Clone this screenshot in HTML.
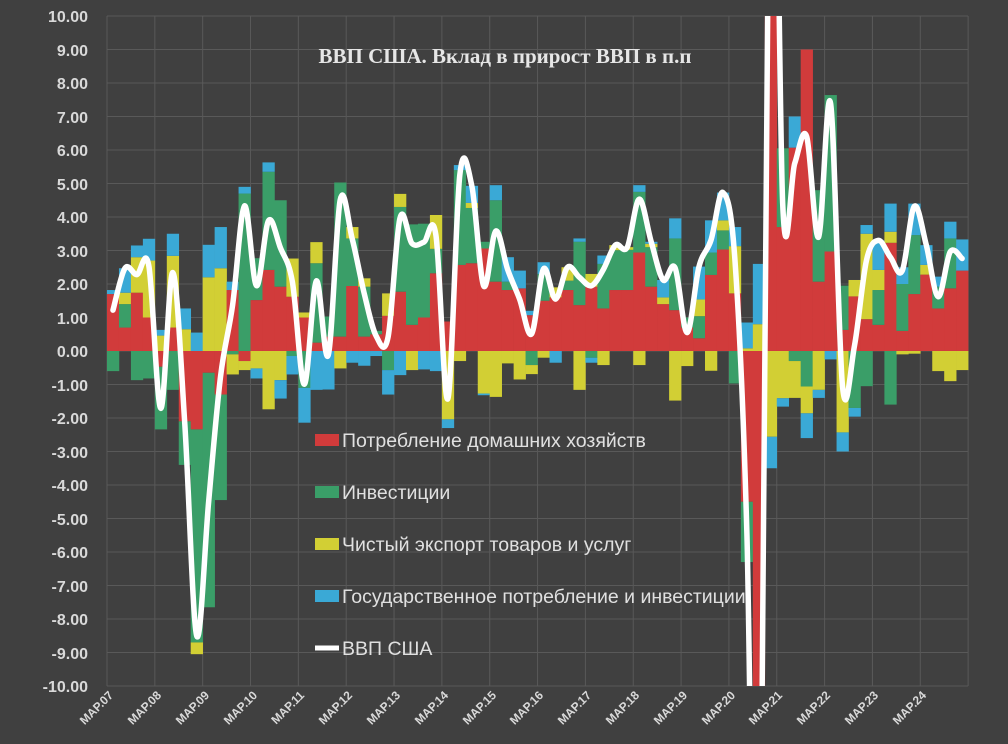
<!DOCTYPE html>
<html><head><meta charset="utf-8">
<style>
html,body{margin:0;padding:0;background:#404040;overflow:hidden;width:1008px;height:744px;}
svg{display:block;}
</style></head>
<body>
<svg id="c" width="1008" height="744" viewBox="0 0 1008 744" xmlns="http://www.w3.org/2000/svg">
<rect x="0" y="0" width="1008" height="744" fill="#404040"/>
<g id="grid" stroke="#595959" stroke-width="1"></g>
<g id="bars"></g>
<defs><clipPath id="cp"><rect x="100" y="16" width="880" height="670"/></clipPath></defs>
<path id="gl" d="" fill="none" stroke="#ffffff" stroke-width="5.5" stroke-linejoin="round" stroke-linecap="round" clip-path="url(#cp)"/>
<g font-family="Liberation Sans, sans-serif" font-size="16" font-weight="bold" fill="#d9d9d9" text-anchor="end">
<text x="88" y="22">10.00</text>
<text x="88" y="56">9.00</text>
<text x="88" y="89">8.00</text>
<text x="88" y="123">7.00</text>
<text x="88" y="156">6.00</text>
<text x="88" y="190">5.00</text>
<text x="88" y="223">4.00</text>
<text x="88" y="257">3.00</text>
<text x="88" y="290">2.00</text>
<text x="88" y="324">1.00</text>
<text x="88" y="357">0.00</text>
<text x="88" y="391">-1.00</text>
<text x="88" y="424">-2.00</text>
<text x="88" y="458">-3.00</text>
<text x="88" y="491">-4.00</text>
<text x="88" y="525">-5.00</text>
<text x="88" y="558">-6.00</text>
<text x="88" y="592">-7.00</text>
<text x="88" y="625">-8.00</text>
<text x="88" y="659">-9.00</text>
<text x="88" y="692">-10.00</text>
</g>
<g font-family="Liberation Sans, sans-serif" font-size="12" font-weight="bold" fill="#d9d9d9" text-anchor="end">
<text transform="translate(114,696) rotate(-45)">МАР.07</text>
<text transform="translate(162,696) rotate(-45)">МАР.08</text>
<text transform="translate(210,696) rotate(-45)">МАР.09</text>
<text transform="translate(258,696) rotate(-45)">МАР.10</text>
<text transform="translate(305,696) rotate(-45)">МАР.11</text>
<text transform="translate(353,696) rotate(-45)">МАР.12</text>
<text transform="translate(401,696) rotate(-45)">МАР.13</text>
<text transform="translate(449,696) rotate(-45)">МАР.14</text>
<text transform="translate(497,696) rotate(-45)">МАР.15</text>
<text transform="translate(544,696) rotate(-45)">МАР.16</text>
<text transform="translate(592,696) rotate(-45)">МАР.17</text>
<text transform="translate(640,696) rotate(-45)">МАР.18</text>
<text transform="translate(688,696) rotate(-45)">МАР.19</text>
<text transform="translate(736,696) rotate(-45)">МАР.20</text>
<text transform="translate(783,696) rotate(-45)">МАР.21</text>
<text transform="translate(831,696) rotate(-45)">МАР.22</text>
<text transform="translate(879,696) rotate(-45)">МАР.23</text>
<text transform="translate(927,696) rotate(-45)">МАР.24</text>
</g>
<text x="505" y="63" font-family="Liberation Serif, serif" font-size="21" font-weight="bold" fill="#e6e6e6" text-anchor="middle">ВВП США. Вклад в прирост ВВП в п.п</text>
<g font-family="Liberation Sans, sans-serif" font-size="19.5" fill="#e0e0e0">
<rect x="315" y="434" width="24" height="12" fill="#d13b3b"/>
<text x="342" y="447">Потребление домашних хозяйств</text>
<rect x="315" y="486" width="24" height="12" fill="#3a9e68"/>
<text x="342" y="499">Инвестиции</text>
<rect x="315" y="538" width="24" height="12" fill="#d2cf34"/>
<text x="342" y="551">Чистый экспорт товаров и услуг</text>
<rect x="315" y="590" width="24" height="12" fill="#3aa9d6"/>
<text x="342" y="603">Государственное потребление и инвестиции</text>
<line x1="315" y1="648" x2="339" y2="648" stroke="#ffffff" stroke-width="5"/>
<text x="342" y="655">ВВП США</text>
</g>
</svg>
<script>
var D=[[1.7,-0.6,0,0.12],[0.7,0.7,0.34,0.73],[1.74,-0.87,1.06,0.35],[1.0,-0.82,1.7,0.65],[-0.47,-1.87,0.46,0.17],[0.7,-1.16,2.14,0.66],[-2.1,-1.3,0.65,0.62],[-2.34,-6.36,-0.35,0.55],[-0.65,-7.0,2.2,0.97],[-1.3,-3.15,2.47,1.23],
[1.82,-0.1,-0.6,0.25],[-0.3,4.7,-0.27,0.2],[1.52,1.25,-0.52,-0.3],[2.42,2.93,-1.74,0.28],[1.92,2.58,-0.87,-0.55],[1.62,-0.15,1.14,-0.55],[1.0,-1.1,0.15,-1.04],[0.25,2.37,0.63,-1.16],[0.43,0.6,0,-1.15],[0.43,4.6,-0.52,0],
[1.94,1.42,0.34,-0.35],[0.43,1.49,0.25,-0.44],[0.5,0.1,0,-0.15],[1.05,-0.57,0.67,-0.73],[1.77,2.53,0.39,-0.72],[0.78,3.0,-0.57,0],[1.0,2.8,0,-0.55],[2.32,0.73,1.01,-0.6],[0.88,0,-2.04,-0.26],[2.57,2.83,-0.3,0.15],
[2.62,1.65,0.15,0.51],[3.06,0.2,-1.27,-0.05],[2.07,2.43,-1.37,0.45],[1.82,0.25,-0.37,0.73],[1.87,0,-0.85,0.53],[1.07,-0.42,-0.27,0.13],[1.5,0.8,-0.2,0.35],[1.6,0,0.3,-0.35],[1.82,0.28,0.4,0],[1.37,1.89,-1.16,0.1],
[1.92,-0.2,0.38,-0.15],[1.27,1.33,-0.42,0.25],[1.82,1.19,0.15,0],[1.82,1.2,0.08,0],[2.94,1.81,-0.42,0.2],[1.92,1.18,0.1,0.06],[1.4,0,0.2,0.52],[1.22,2.14,-1.48,0.6],[0.7,0.3,-0.45,0],[0.38,0.66,0.5,0.98],
[2.27,0.67,-0.59,0.96],[3.03,0.57,0.3,0.83],[1.72,-0.97,1.41,0.57],[-4.5,-1.8,0.08,0.77],[-25,0,0.8,1.8],[25,0,-2.56,-0.94],[3.7,2.35,-1.41,-0.25],[6.07,-0.3,-1.1,0.93],[9.0,-1.06,-0.8,-0.74],[2.07,2.73,-1.16,-0.24],
[2.97,4.67,0,-0.25],[0.63,1.32,-2.43,-0.57],[1.63,-1.7,0.49,-0.26],[0.95,-1.05,2.55,0.26],[0.78,1.04,0.6,0.88],[3.23,-1.6,0.33,0.84],[0.6,1.4,-0.1,0.5],[1.7,1.76,-0.08,0.94],[2.28,0,0.29,0.59],[1.27,0.65,-0.6,0.3],
[1.87,1.49,-0.9,0.5],[2.4,0,-0.57,0.93]];
var C=["#d13b3b","#3a9e68","#d2cf34","#3aa9d6"];
var NS="http://www.w3.org/2000/svg";
var X0=107,W=11.96,Y0=351,U=33.5;
function Y(v){return Y0-U*v;}
var g=document.getElementById("grid");
function ln(x1,y1,x2,y2){var l=document.createElementNS(NS,"line");l.setAttribute("x1",x1);l.setAttribute("y1",y1);l.setAttribute("x2",x2);l.setAttribute("y2",y2);g.appendChild(l);}
for(var v=-10;v<=10;v++){ln(X0,Y(v),968,Y(v));}
for(var k=0;k<=18;k++){var x=X0+k*4*W;ln(x,16,x,686);}
var b=document.getElementById("bars");
var pts=[];
for(var i=0;i<D.length;i++){
 var x=X0+i*W,p=0,n=0,s=0;
 for(var j=0;j<4;j++){
  var v=D[i][j];s+=v;if(v==0)continue;
  var a,c;
  if(v>0){a=p;c=p+v;p=c;}else{a=n;c=n+v;n=c;}
  var t=Math.max(Math.min(Math.max(a,c),10),-10),bo=Math.max(Math.min(Math.min(a,c),10),-10);
  if(t-bo<=0)continue;
  var r=document.createElementNS(NS,"rect");
  r.setAttribute("x",x.toFixed(2));r.setAttribute("width",(W+0.3).toFixed(2));
  r.setAttribute("y",Y(t).toFixed(2));r.setAttribute("height",(U*(t-bo)).toFixed(2));
  r.setAttribute("fill",C[j]);b.appendChild(r);
 }
 pts.push([x+W/2,Y(s)]);
}
var d="M"+pts[0][0]+","+pts[0][1];
for(var i=0;i<pts.length-1;i++){
 var p0=pts[Math.max(i-1,0)],p1=pts[i],p2=pts[i+1],p3=pts[Math.min(i+2,pts.length-1)];
 var t=1/3;
 var c1=[p1[0]+(p2[0]-p0[0])*t/2,p1[1]+(p2[1]-p0[1])*t/2];
 var c2=[p2[0]-(p3[0]-p1[0])*t/2,p2[1]-(p3[1]-p1[1])*t/2];
 d+=" C"+c1[0].toFixed(1)+","+c1[1].toFixed(1)+" "+c2[0].toFixed(1)+","+c2[1].toFixed(1)+" "+p2[0].toFixed(1)+","+p2[1].toFixed(1);
}
document.getElementById("gl").setAttribute("d",d);
</script>
</body></html>
